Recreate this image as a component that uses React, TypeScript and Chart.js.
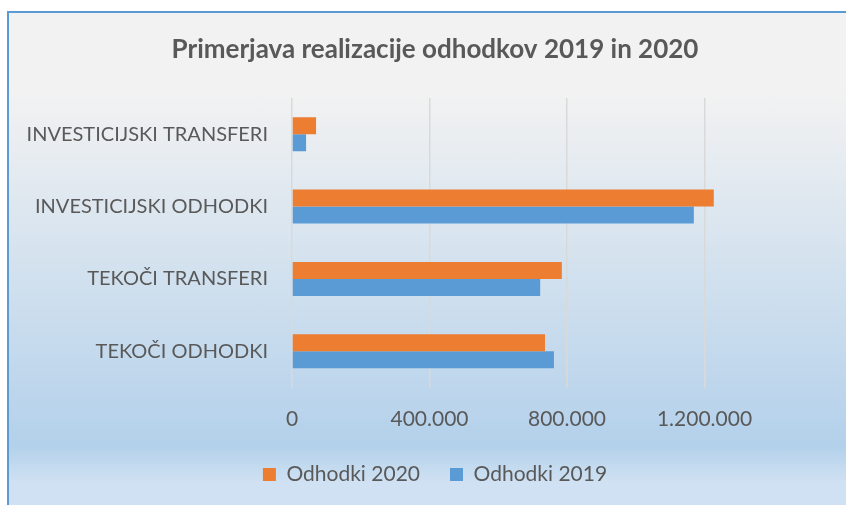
import React, { useEffect, useRef } from "react";
import { Chart, registerables } from "chart.js";

Chart.register(...registerables);

const categories = [
  "INVESTICIJSKI TRANSFERI",
  "INVESTICIJSKI ODHODKI",
  "TEKOČI TRANSFERI",
  "TEKOČI ODHODKI",
];
const odhodki2020 = [70000, 1227000, 785000, 736000];
const odhodki2019 = [41000, 1169000, 722000, 762000];
const seriesNames = ["Odhodki 2020", "Odhodki 2019"];
const titleText = "Primerjava realizacije odhodkov 2019 in 2020";
const axisMin = 0;
const axisMax = 1600000;
const axisStep = 400000;

const fmt = (v: number) => String(Math.round(v)).replace(/\B(?=(\d{3})+(?!\d))/g, ".");

export default function App() {
  const ref = useRef<HTMLCanvasElement | null>(null);
  useEffect(() => {
    if (!ref.current) return;
    const textColor = "#595959";
    const font = "Lato, 'Open Sans', sans-serif";
    const chart = new Chart(ref.current, {
      type: "bar",
      data: {
        labels: categories,
        datasets: [
          {
            label: seriesNames[0],
            data: odhodki2020,
            backgroundColor: "#ed7d31",
            borderWidth: 0,
            categoryPercentage: 0.47,
            barPercentage: 1,
          },
          {
            label: seriesNames[1],
            data: odhodki2019,
            backgroundColor: "#5b9bd5",
            borderWidth: 0,
            categoryPercentage: 0.47,
            barPercentage: 1,
          },
        ],
      },
      options: {
        indexAxis: "y",
        responsive: false,
        animation: false,
        devicePixelRatio: 1,
        layout: { padding: { left: 0, right: 0, top: 0, bottom: 10 } },
        plugins: {
          title: {
            display: true,
            text: titleText,
            color: textColor,
            font: { family: font, size: 26, weight: "bold", lineHeight: 1.2 },
            padding: { top: 21.4, bottom: 32.4 },
          },
          legend: {
            position: "bottom",
            labels: {
              color: textColor,
              font: { family: font, size: 21 },
              boxWidth: 13,
              boxHeight: 13,
              padding: 30,
            },
          },
          tooltip: { enabled: false },
        },
        scales: {
          x: {
            type: "linear",
            min: axisMin,
            max: axisMax,
            grid: {
              color: (ctx: any) => (ctx.tick && ctx.tick.value === axisMax ? "rgba(0,0,0,0)" : "#d9d9d9"),
              lineWidth: 1.5,
              drawTicks: false,
            },
            border: { display: false },
            ticks: {
              stepSize: axisStep,
              color: textColor,
              font: { family: font, size: 21, lineHeight: 1.2 },
              padding: 19,
              maxRotation: 0,
              callback: (v: any) => (Number(v) === axisMax ? "" : fmt(Number(v))),
            },
            afterFit: (scale: any) => {
              scale.height = 46.5;
            },
          },
          y: {
            grid: { display: false, drawTicks: false },
            border: { display: false },
            ticks: {
              color: textColor,
              font: { family: font, size: 20 },
              padding: 24,
            },
            afterFit: (scale: any) => {
              scale.width = 283;
            },
          },
        },
      },
    });
    return () => chart.destroy();
  }, []);

  return (
    <div
      style={{
        position: "fixed",
        left: 7,
        top: 11,
        width: 839,
        height: 494,
        boxSizing: "border-box",
        borderTop: "2px solid #5b9bd5",
        borderLeft: "2px solid #5b9bd5",
        overflow: "hidden",
        background:
          "linear-gradient(180deg, #f2f2f2 0px, #f2f2f2 79px, #b4d1eb 429px, #b4d1eb 434px, #cfe1f2 469px, #cfe1f2 100%)",
      }}
    >
      <canvas ref={ref} width={852} height={492} style={{ display: "block" }} />
    </div>
  );
}
